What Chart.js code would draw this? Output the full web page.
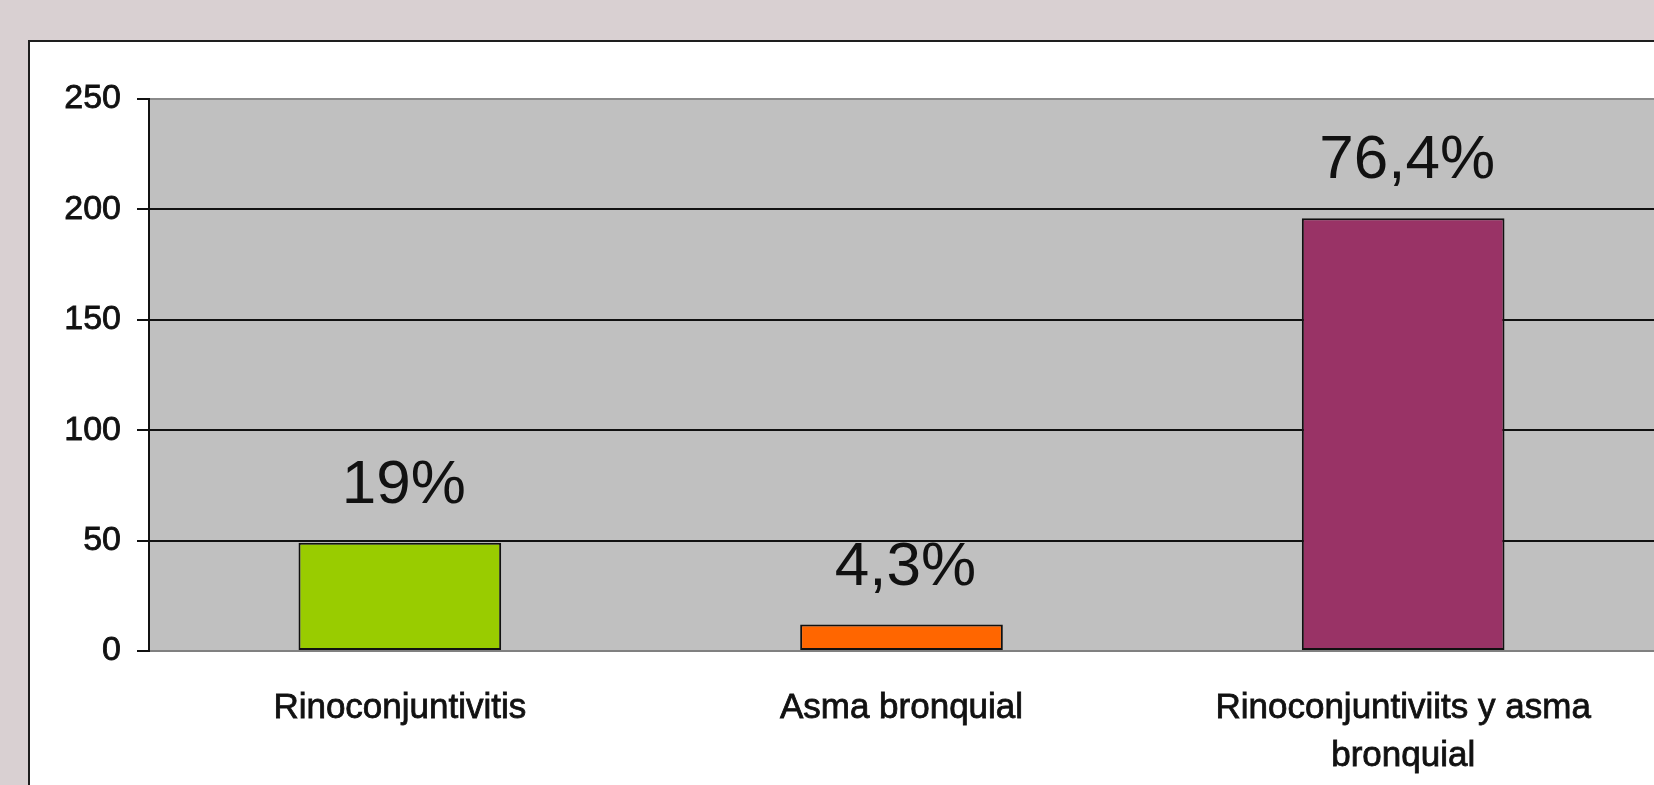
<!DOCTYPE html>
<html>
<head>
<meta charset="utf-8">
<script src="https://cdn.jsdelivr.net/npm/chart.js@4.4.1/dist/chart.umd.min.js"></script>
<style>
  html, body { margin: 0; padding: 0; }
  body { width: 1654px; height: 785px; background: #d9d0d2; position: relative; overflow: hidden; }
  #frame { position: absolute; left: 28px; top: 40px; width: 1700px; height: 800px; background: #ffffff; border: 2px solid #1e1e1e; }
  #wrap { position: absolute; left: 0; top: 0; width: 1654px; height: 785px; }
</style>
</head>
<body>
<div id="frame"></div>
<div id="wrap"><canvas id="c" width="1654" height="785"></canvas></div>
<script>
const categories = ['Rinoconjuntivitis', 'Asma bronquial', ['Rinoconjuntiviits y asma', 'bronquial']];
const values = [49, 12, 196];
const percentLabels = ['19%', '4,3%', '76,4%'];
const barColors = ['#99cc00', '#ff6600', '#993366'];
const yTicks = [0, 50, 100, 150, 200, 250];

const FONT = '"Liberation Sans", Arial, sans-serif';

const plotBg = {
  id: 'plotBg',
  beforeDraw(chart) {
    const { ctx, chartArea: a } = chart;
    ctx.save();
    ctx.fillStyle = '#c0c0c0';
    ctx.fillRect(a.left, a.top, a.right - a.left, a.bottom - a.top);
    ctx.restore();
  }
};

const valueLabels = {
  id: 'valueLabels',
  afterDatasetsDraw(chart) {
    const { ctx } = chart;
    const meta = chart.getDatasetMeta(0);
    ctx.save();
    ctx.font = '62px ' + FONT;
    ctx.fillStyle = '#111111';
    ctx.textAlign = 'center';
    ctx.textBaseline = 'alphabetic';
    meta.data.forEach((bar, i) => {
      ctx.fillText(percentLabels[i], bar.x + 4, bar.y - 40);
    });
    ctx.restore();
  }
};

new Chart(document.getElementById('c'), {
  type: 'bar',
  data: {
    labels: categories,
    datasets: [{
      data: values,
      backgroundColor: barColors,
      borderColor: '#111111',
      borderWidth: 2,
      borderSkipped: false,
      barPercentage: 0.404,
      categoryPercentage: 1.0
    }]
  },
  options: {
    responsive: false,
    animation: false,
    devicePixelRatio: 1,
    layout: { padding: { top: 99, right: 0, left: 0, bottom: 0 } },
    plugins: { legend: { display: false }, tooltip: { enabled: false }, title: { display: false } },
    scales: {
      x: {
        offset: true,
        grid: { display: false, drawTicks: false },
        border: { display: true, color: '#808080', width: 2 },
        ticks: {
          color: '#111111',
          textStrokeColor: '#111111',
          textStrokeWidth: 0.8,
          font: { family: FONT, size: 35, lineHeight: 1.37 },
          padding: 33,
          maxRotation: 0,
          autoSkip: false
        },
        afterFit(scale) { scale.height = 134; }
      },
      y: {
        min: 0,
        max: 250,
        afterBuildTicks(scale) { scale.ticks = yTicks.map(v => ({ value: v })); },
        grid: {
          color: ctx => (ctx.tick && (ctx.tick.value === 0 || ctx.tick.value === 250)) ? '#8a8a8a' : '#111111',
          lineWidth: 2,
          tickColor: '#111111',
          tickLength: 12,
          drawTicks: true
        },
        border: { display: true, color: '#111111', width: 2 },
        ticks: {
          color: '#111111',
          textStrokeColor: '#111111',
          textStrokeWidth: 0.8,
          font: { family: FONT, size: 34 },
          padding: 16
        },
        afterFit(scale) { scale.width = 149; }
      }
    }
  },
  plugins: [plotBg, valueLabels]
});
</script>
</body>
</html>
